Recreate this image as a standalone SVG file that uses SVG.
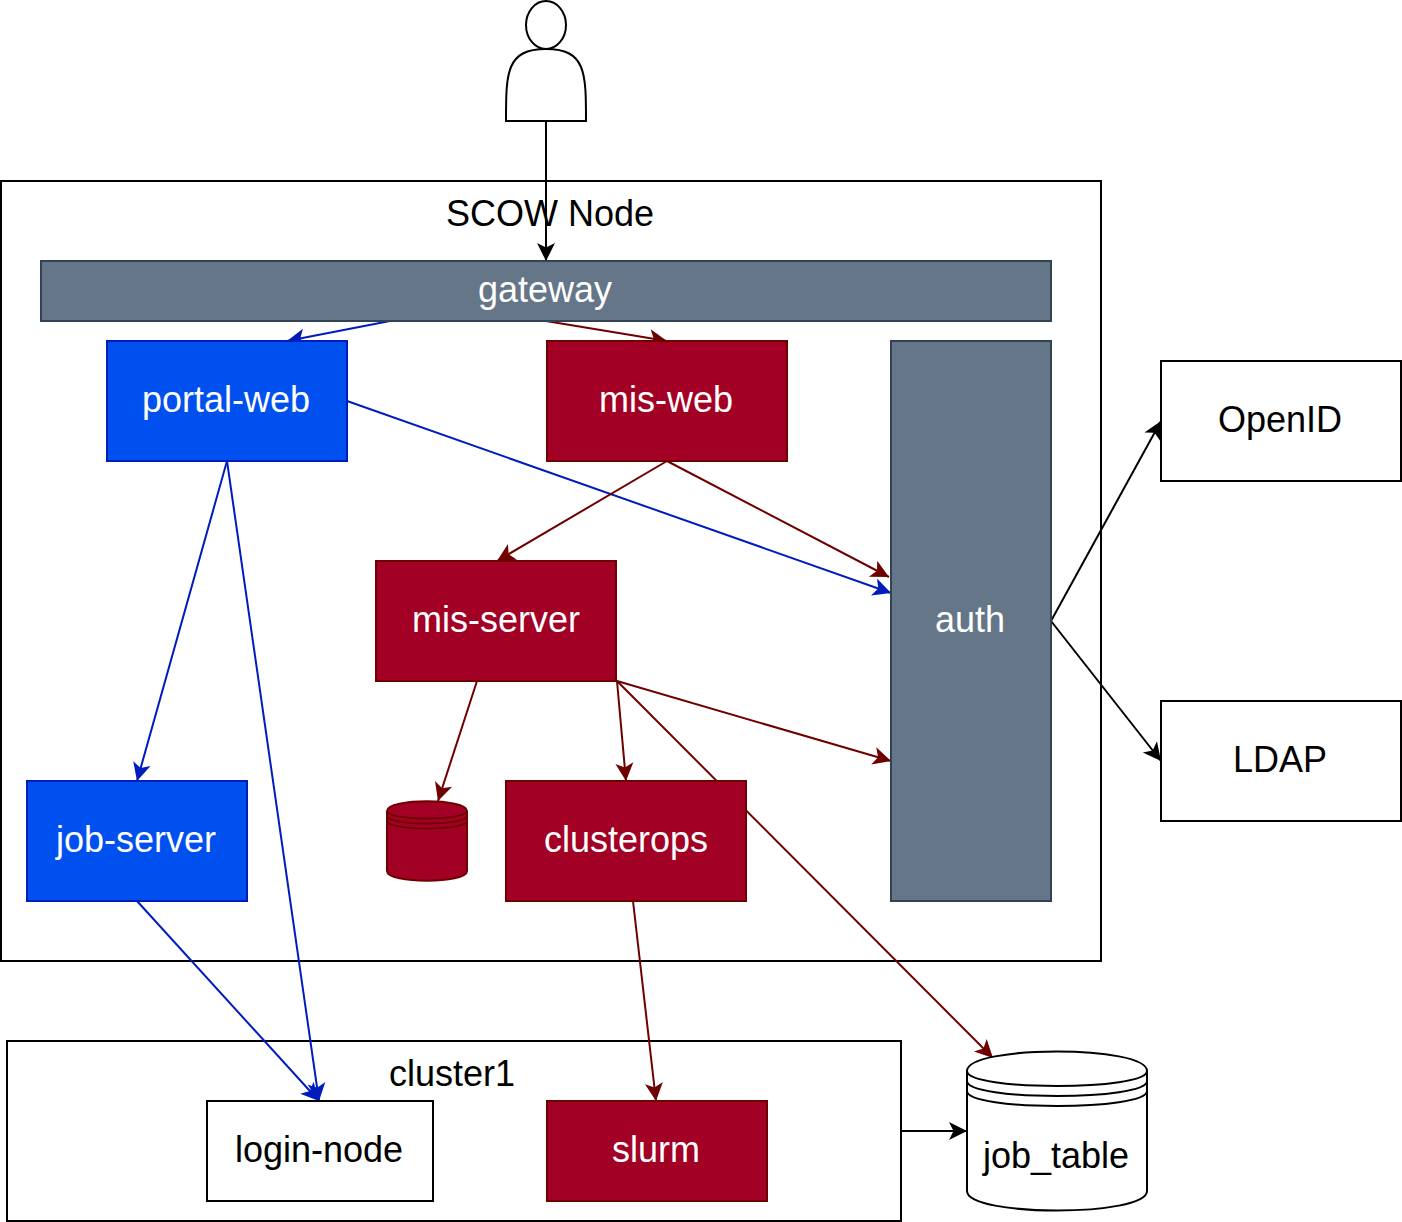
<svg xmlns="http://www.w3.org/2000/svg" width="1402" height="1222" viewBox="0 0 1402 1222">
<style>
text{font-family:"Liberation Sans",Arial,sans-serif;font-size:36px;text-anchor:middle;fill:#000}
text.w{fill:#fff}
.box{fill:#fff;stroke:#000;stroke-width:2}
.red{fill:#a20025;stroke:#6f0000;stroke-width:2}
.blue{fill:#0050ef;stroke:#001dbc;stroke-width:2}
.grey{fill:#647687;stroke:#314354;stroke-width:2}
.c{fill:none;stroke-width:2}
.k{stroke:#000;marker-end:url(#ak)}
.r{stroke:#6f0000;marker-end:url(#ar)}
.b{stroke:#001dbc;marker-end:url(#ab)}
</style>
<defs>
<marker id="ak" markerUnits="userSpaceOnUse" markerWidth="24" markerHeight="24" refX="20" refY="12" orient="auto"><path d="M2,3 L20,12 L2,21 L6.5,12 Z" fill="#000"/></marker>
<marker id="ar" markerUnits="userSpaceOnUse" markerWidth="24" markerHeight="24" refX="20" refY="12" orient="auto"><path d="M2,3 L20,12 L2,21 L6.5,12 Z" fill="#6f0000"/></marker>
<marker id="ab" markerUnits="userSpaceOnUse" markerWidth="24" markerHeight="24" refX="20" refY="12" orient="auto"><path d="M2,3 L20,12 L2,21 L6.5,12 Z" fill="#001dbc"/></marker>
</defs>
<g id="scow-node"><rect class="box" x="1" y="181" width="1100" height="780"/><text x="550" y="226">SCOW Node</text></g>
<g id="cluster1"><rect class="box" x="7" y="1041" width="894" height="180"/><text x="452" y="1086">cluster1</text></g>
<g id="connectors">
<path class="c k" d="M546,121V261"/>
<path class="c b" d="M390,321L287,341"/>
<path class="c r" d="M546,321L667,341"/>
<path class="c b" d="M347,401L891,593"/>
<path class="c b" d="M227,461L137,781"/>
<path class="c b" d="M227,461L319,1101"/>
<path class="c r" d="M667,461L497,561"/>
<path class="c r" d="M667,461L889,577"/>
<path class="c r" d="M477,681L438,801"/>
<path class="c r" d="M617,681L626,781"/>
<path class="c r" d="M617,681L891,761"/>
<path class="c r" d="M617,681L993,1058"/>
<path class="c b" d="M137,901L319,1101"/>
<path class="c r" d="M633,901L656,1101"/>
<path class="c k" d="M901,1131H967"/>
<path class="c k" d="M1051,621L1161,421"/>
<path class="c k" d="M1051,621L1161,761"/>
</g>
<g id="user"><path class="box" d="M506,121C506,73 506,49 546,49C586,49 586,73 586,121Z"/><ellipse class="box" cx="546" cy="25" rx="20" ry="24"/></g>
<g id="gateway"><rect class="grey" x="41" y="261" width="1010" height="60"/><text class="w" x="545" y="302">gateway</text></g>
<g id="portal-web"><rect class="blue" x="107" y="341" width="240" height="120"/><text class="w" x="226" y="412">portal-web</text></g>
<g id="mis-web"><rect class="red" x="547" y="341" width="240" height="120"/><text class="w" x="666" y="412">mis-web</text></g>
<g id="auth"><rect class="grey" x="891" y="341" width="160" height="560"/><text class="w" x="970" y="632">auth</text></g>
<g id="mis-server"><rect class="red" x="376" y="561" width="240" height="120"/><text class="w" x="496" y="632">mis-server</text></g>
<g id="job-server"><rect class="blue" x="27" y="781" width="220" height="120"/><text class="w" x="136" y="852">job-server</text></g>
<g id="clusterops"><rect class="red" x="506" y="781" width="240" height="120"/><text class="w" x="626" y="852">clusterops</text></g>
<g id="database"><path class="red" d="M387,811C387,798 467,798 467,811V871C467,884 387,884 387,871Z"/><path class="red" style="fill:none" d="M387,811C387,821 467,821 467,811M387,816C387,826 467,826 467,816M387,821C387,831 467,831 467,821"/></g>
<g id="openid"><rect class="box" x="1161" y="361" width="240" height="120"/><text x="1280" y="432">OpenID</text></g>
<g id="ldap"><rect class="box" x="1161" y="701" width="240" height="120"/><text x="1280" y="772">LDAP</text></g>
<g id="login-node"><rect class="box" x="207" y="1101" width="226" height="100"/><text x="319" y="1162">login-node</text></g>
<g id="slurm"><rect class="red" x="547" y="1101" width="220" height="100"/><text class="w" x="656" y="1162">slurm</text></g>
<g id="job_table"><path class="box" d="M967,1071C967,1045 1147,1045 1147,1071V1191C1147,1217 967,1217 967,1191Z"/><path class="box" style="fill:none" d="M967,1071C967,1091 1147,1091 1147,1071M967,1081C967,1101 1147,1101 1147,1081M967,1091C967,1111 1147,1111 1147,1091"/><text x="1056" y="1168">job_table</text></g>
</svg>
